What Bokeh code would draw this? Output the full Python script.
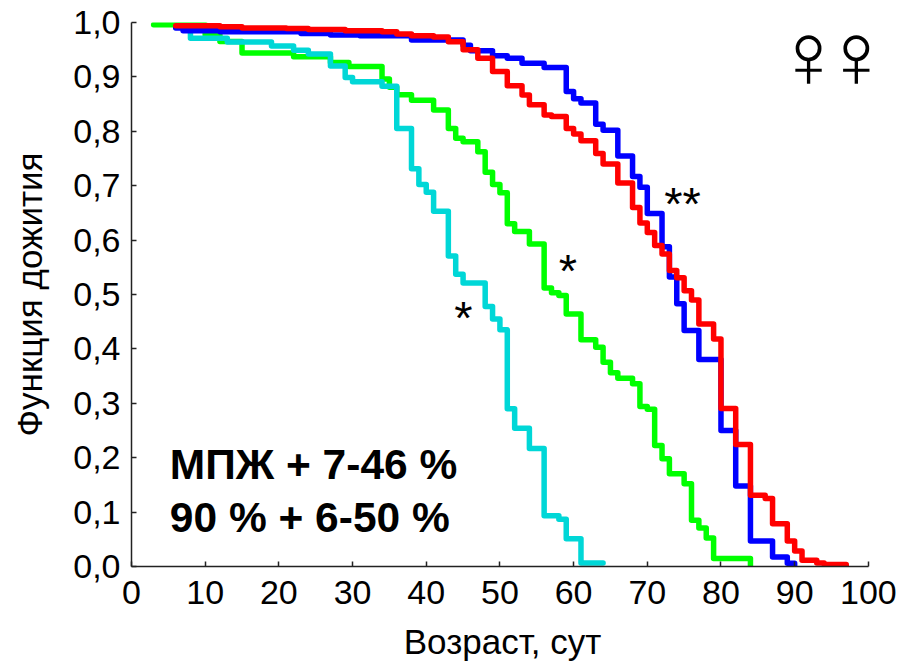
from bokeh.plotting import figure
from bokeh.embed import file_html
from bokeh.resources import INLINE
from bokeh.models import FixedTicker, Label

x_ticks = [0, 10, 20, 30, 40, 50, 60, 70, 80, 90, 100]
y_ticks = [0.0, 0.1, 0.2, 0.3, 0.4, 0.5, 0.6, 0.7, 0.8, 0.9, 1.0]
y_labels = ["0,0", "0,1", "0,2", "0,3", "0,4", "0,5", "0,6", "0,7", "0,8", "0,9", "1,0"]

green_x = [3, 10, 12, 15, 22, 27, 29.5, 34, 35, 36, 38, 41, 43, 44, 45, 47, 48, 49, 50, 51, 52, 54, 56, 57, 58, 59, 61, 63, 64, 65, 66, 68, 69, 70, 71, 72, 73, 75, 76, 77, 78, 79, 84, 84]
green_y = [.996, .977, .965, .944, .937, .9265, .919, .896, .881, .867, .857, .839, .805, .787, .781, .7625, .7245, .702, .687, .63, .616, .593, .512, .503, .498, .464, .417, .403, .3755, .356, .346, .336, .294, .289, .2226, .198, .1705, .152, .085, .0707, .0523, .0145, .0145, 0]

cyan_x = [6, 8, 13, 19, 22, 24, 27, 29, 30, 34, 36, 38, 39, 40, 41, 43, 44, 45, 48, 49, 50, 51, 52, 54, 56, 58, 59, 61, 64]
cyan_y = [.992, .971, .964, .957, .949, .942, .920, .899, .891, .883, .805, .731, .702, .688, .653, .571, .537, .521, .478, .455, .435, .290, .254, .217, .0935, .0867, .051, .0065, .0065]

blue_x = [6, 7, 12, 23, 27, 31, 38, 45, 46, 49, 51, 53, 56, 59, 60, 61, 63, 64, 66, 68, 69, 70, 72, 73, 74, 75, 77, 80, 82, 84, 87, 89, 90]
blue_y = [.99, .985, .983, .98, .977, .9755, .968, .958, .948, .939, .9345, .925, .9175, .873, .86, .852, .813, .802, .7546, .717, .697, .649, .588, .532, .483, .434, .3805, .25, .148, .047, .0175, .006, 0]

red_x = [6, 12, 15, 21, 24, 29, 34, 36, 38, 41, 43, 45, 47, 49, 51, 53, 54, 56, 57, 59, 60, 61, 63, 64, 66, 68, 69, 70, 71, 72, 73, 74, 75, 76, 77, 79, 80, 82, 84, 86, 87, 89, 90, 91, 93, 94, 97]
red_y = [.994, .992, .990, .989, .987, .985, .983, .979, .9755, .9735, .9645, .95, .9345, .91, .8836, .8667, .849, .83, .827, .805, .795, .7827, .759, .74, .705, .66, .6315, .614, .59, .5746, .544, .5306, .507, .49, .446, .418, .2905, .2244, .1308, .125, .0788, .047, .0285, .0114, .0065, .0035, .002]

x_title = "Возраст, сут"
y_title = "Функция дожития"

# x range reaches a little past 100 so that the symbols at the right are not clipped; the axis stops at 100
p = figure(width=904, height=666, output_backend="svg", toolbar_location=None,
           x_range=(0, 100.7), y_range=(0, 1),
           min_border_left=131, min_border_right=31, min_border_top=22, min_border_bottom=100)
p.outline_line_color = None
p.grid.visible = False
p.background_fill_color = "white"

FONT = "Liberation Sans"
for ax, ticks in ((p.xaxis[0], x_ticks), (p.yaxis[0], y_ticks)):
    ax.ticker = FixedTicker(ticks=ticks)
    ax.major_tick_in = 5
    ax.major_tick_out = 0
    ax.minor_tick_line_color = None
    ax.axis_line_color = "#222222"
    ax.major_tick_line_color = "#222222"
    ax.axis_line_width = 1.5
    ax.major_tick_line_width = 1.5
    ax.major_label_text_font = FONT
    ax.major_label_text_font_size = "34px"
    ax.major_label_text_color = "black"
    ax.axis_label_text_font = FONT
    ax.axis_label_text_font_style = "normal"
    ax.axis_label_text_font_size = "35px"
    ax.axis_label_text_color = "black"

p.xaxis[0].bounds = (0, 100)
p.yaxis[0].major_label_overrides = {t: s for t, s in zip(y_ticks, y_labels)}
p.xaxis[0].major_label_overrides = {t: str(t) for t in x_ticks}
p.xaxis[0].axis_label = x_title
p.yaxis[0].axis_label = y_title
p.xaxis[0].major_label_standoff = 14
p.yaxis[0].major_label_standoff = 11
p.xaxis[0].axis_label_standoff = 15
p.yaxis[0].axis_label_standoff = 21

for xs, ys, col in ((green_x, green_y, "#00ff00"), (cyan_x, cyan_y, "#00d7d7"),
                    (blue_x, blue_y, "#0000ff"), (red_x, red_y, "#ff0000")):
    p.step(xs, ys, mode="after", line_color=col, line_width=5.5, line_join="round", line_cap="round")

def label(x, y, s, size, style="normal", font=FONT, align="left"):
    p.add_layout(Label(x=x, y=y, text=s, text_font=font, text_font_size=size, text_font_style=style,
                       text_color="black", text_align=align, text_baseline="middle"))

label(5.2, 0.187, "МПЖ + 7-46 %", "42.5px", "bold")
label(5.2, 0.09, "90 % + 6-50 %", "42.5px", "bold")
label(72.3, 0.667, "**", "47px")
label(58.0, 0.545, "*", "47px")
label(43.8, 0.458, "*", "47px")
label(91.9, 0.94, "♀", "92px", align="center")
label(98.4, 0.94, "♀", "92px", align="center")

open("out.html", "w").write(file_html(p, INLINE))
